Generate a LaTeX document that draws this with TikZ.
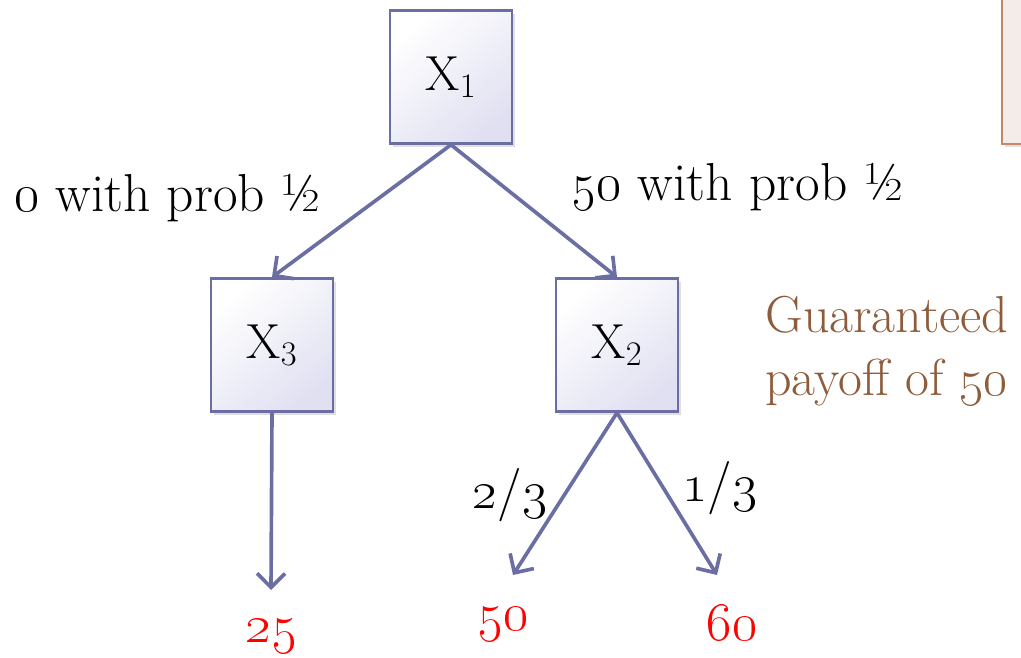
\RequirePackage{fix-cm}
\documentclass[tikz,border=0pt]{standalone}
\usepackage{tikz}
\usetikzlibrary{positioning,arrows.meta,shadows}
\definecolor{slate}{HTML}{6A6EA3}
\definecolor{boxFill}{HTML}{E0E0F2}
\definecolor{bronze}{HTML}{8E5C3B}
\definecolor{noteEdge}{HTML}{C08A6A}
\definecolor{noteFill}{HTML}{F4ECE8}
\newcommand{\os}[1]{\oldstylenums{#1}}

\begin{document}
\begin{tikzpicture}[x=0.025cm, y=-0.025cm,
    softShadow/.style={drop shadow={opacity=0.25, shadow xshift=1.8pt, shadow yshift=-2.4pt}},
    varBox/.style={draw=slate, line width=1.8pt, top color=white, bottom color=boxFill, shading angle=40, minimum width=3.05cm, minimum height=3.325cm, inner sep=0pt, softShadow, font=\fontsize{35}{40}\selectfont},
    arrowStyle/.style={-{Straight Barb[length=10pt,width=20pt]}, line width=2.6pt, draw=slate},
    probLabel/.style={font=\fontsize{38}{42}\selectfont},
    payLabel/.style={text=red, font=\fontsize{39}{44}\selectfont}
]
    \useasboundingbox (0,0) rectangle (1021,658);

    % partly hidden note box at the right edge
    \fill[noteFill, draw=noteEdge, line width=1.8pt, softShadow] (1002,-20) rectangle (1040,144);

    \node[varBox] (x1) at (451,77) {X$_1$};
    \node[varBox] (x3) at (272,345) {X$_3$};
    \node[varBox] (x2) at (617,345) {X$_2$};

    \node[probLabel] (lowProb) at (168,198) {\os{0} with prob \textonehalf};
    \node[probLabel] (highProb) at (738,187) {\os{50} with prob \textonehalf};
    \node[probLabel] (twoThirds) at (510,495) {\os{2}/\os{3}};
    \node[probLabel] (oneThird) at (720,488) {\os{1}/\os{3}};

    \node[payLabel] (pay25) at (271,636) {\os{25}};
    \node[payLabel] (pay50) at (503,624) {\os{50}};
    \node[payLabel] (pay60) at (732,623) {\os{60}};

    \node[font=\fontsize{37}{45}\selectfont, text=bronze, align=left, anchor=west, inner sep=0pt] (guarantee) at (765,351) {Guaranteed\\payoff of \os{50}};

    \coordinate (end25) at (271,590);
    \coordinate (end50) at (513,575);
    \coordinate (end60) at (717,575);

    \draw[arrowStyle] (x1.south) -- (x3.north);
    \draw[arrowStyle] (x1.south) -- (x2.north);
    \draw[arrowStyle] (x3.south) -- (end25);
    \draw[arrowStyle] (x2.south) -- (end50);
    \draw[arrowStyle] (x2.south) -- (end60);
\end{tikzpicture}
\end{document}
